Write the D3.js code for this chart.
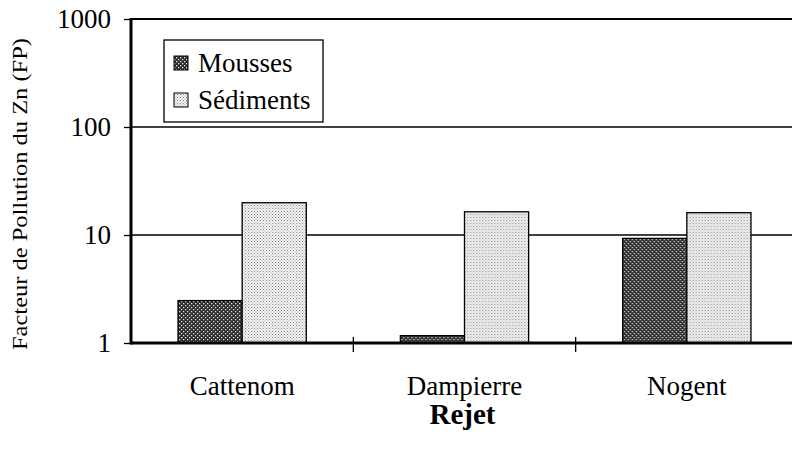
<!DOCTYPE html>
<html>
<head>
<meta charset="utf-8">
<script src="https://cdn.jsdelivr.net/npm/d3@7/dist/d3.min.js"></script>
<style>
  html, body { margin: 0; padding: 0; background: #fff; }
</style>
</head>
<body>
<svg id="chart" width="792" height="458"></svg>
<script>
// Sites (rejet) and Zn pollution factor per matrix
const categories = ["Cattenom", "Dampierre", "Nogent"];
const seriesNames = ["Mousses", "Sédiments"];
const mousses = [2.47, 1.17, 9.3];
const sediments = [19.9, 16.4, 16.1];
const yTicks = [1, 10, 100, 1000];

const FONT = "'Liberation Serif'";
const svg = d3.select("#chart");
const W = 792, H = 458;
const m = { left: 131, right: -6, top: 19, bottom: 115 };
const plotW = W - m.left - m.right;
const plotH = H - m.top - m.bottom;

// Fill patterns for the two series
const defs = svg.append("defs");
const pM = defs.append("pattern").attr("id", "patMousses")
  .attr("width", 4).attr("height", 4).attr("patternUnits", "userSpaceOnUse");
pM.append("rect").attr("width", 4).attr("height", 4).attr("fill", "#2a2a2a");
pM.append("rect").attr("x", 0).attr("y", 0).attr("width", 1.3).attr("height", 1.3).attr("fill", "#e8e8e8");
pM.append("rect").attr("x", 2).attr("y", 2).attr("width", 1.3).attr("height", 1.3).attr("fill", "#e8e8e8");

const pS = defs.append("pattern").attr("id", "patSediments")
  .attr("width", 3).attr("height", 3).attr("patternUnits", "userSpaceOnUse");
pS.append("rect").attr("width", 3).attr("height", 3).attr("fill", "#f2f2f2");
pS.append("rect").attr("x", 0).attr("y", 0).attr("width", 1).attr("height", 1).attr("fill", "#888");
pS.append("rect").attr("x", 1.5).attr("y", 1.5).attr("width", 1).attr("height", 1).attr("fill", "#aaa");

const fills = { "Mousses": "url(#patMousses)", "Sédiments": "url(#patSediments)" };

const g = svg.append("g").attr("transform", `translate(${m.left},${m.top})`);

const x0 = d3.scaleBand().domain(categories).range([0, plotW]).paddingInner(0).paddingOuter(0);
const bw = x0.bandwidth();
const groupW = bw * 0.577;
const x1 = d3.scaleBand().domain(seriesNames).range([(bw - groupW) / 2, (bw + groupW) / 2]).padding(0);
const y = d3.scaleLog().domain([1, 1000]).range([plotH, 0]);

// Horizontal grid lines at each decade
g.append("g").selectAll("line").data(yTicks.filter(t => t > 1 && t < 1000)).join("line")
  .attr("x1", 0).attr("x2", plotW)
  .attr("y1", d => y(d)).attr("y2", d => y(d))
  .attr("stroke", "#000").attr("stroke-width", 1.3);

// Top frame line
g.append("line").attr("x1", 0).attr("x2", plotW).attr("y1", y(1000)).attr("y2", y(1000))
  .attr("stroke", "#000").attr("stroke-width", 2);

// Bars
const rows = categories.map((c, i) => ({ cat: c, values: [
  { key: "Mousses", v: mousses[i] },
  { key: "Sédiments", v: sediments[i] }
]}));

const grp = g.append("g").selectAll("g").data(rows).join("g")
  .attr("transform", d => `translate(${x0(d.cat)},0)`);
grp.selectAll("rect").data(d => d.values).join("rect")
  .attr("x", d => x1(d.key))
  .attr("width", x1.bandwidth())
  .attr("y", d => y(d.v))
  .attr("height", d => y(1) - y(d.v))
  .attr("fill", d => fills[d.key])
  .attr("stroke", "#000").attr("stroke-width", 1.3);

// Y axis
const yAxis = d3.axisLeft(y).tickValues(yTicks).tickFormat(d3.format("d")).tickSize(7).tickPadding(13);
const ya = g.append("g").call(yAxis);
ya.select(".domain").remove();
ya.selectAll(".tick line").attr("stroke", "#000").attr("stroke-width", 1.3);
ya.selectAll(".tick text").attr("font-size", 27).attr("fill", "#000")
  .style("font-family", FONT);
g.append("line").attr("x1", 0).attr("x2", 0).attr("y1", -1).attr("y2", plotH + 1.5)
  .attr("stroke", "#000").attr("stroke-width", 3);

// X axis
const xa = g.append("g").attr("transform", `translate(0,${plotH})`);
xa.append("line").attr("x1", 0).attr("x2", plotW).attr("stroke", "#000").attr("stroke-width", 3);
xa.selectAll("line.sep").data(categories.slice(1)).join("line").attr("class", "sep")
  .attr("x1", d => x0(d)).attr("x2", d => x0(d)).attr("y1", -6).attr("y2", 9)
  .attr("stroke", "#000").attr("stroke-width", 1.3);
xa.selectAll("text").data(categories).join("text")
  .attr("x", d => x0(d) + bw / 2).attr("y", 52)
  .attr("text-anchor", "middle").attr("font-size", 27).attr("fill", "#000")
  .style("font-family", FONT)
  .text(d => d);

// Axis titles
svg.append("text").attr("x", m.left + plotW / 2 - 2).attr("y", 424)
  .attr("text-anchor", "middle").attr("font-size", 29).attr("font-weight", "bold")
  .style("font-family", FONT)
  .text("Rejet");
svg.append("text").attr("transform", `translate(27,${(38 + 350) / 2}) rotate(-90)`)
  .attr("text-anchor", "middle").attr("font-size", 21)
  .style("font-family", FONT)
  .attr("textLength", 312).attr("lengthAdjust", "spacingAndGlyphs")
  .text("Facteur de Pollution du Zn (FP)");

// Legend
const lg = svg.append("g").attr("transform", "translate(164,40)");
lg.append("rect").attr("width", 159).attr("height", 82).attr("fill", "#fff")
  .attr("stroke", "#000").attr("stroke-width", 1.3);
const li = lg.selectAll("g.item").data(seriesNames).join("g").attr("class", "item")
  .attr("transform", (d, i) => `translate(10,${23 + i * 37})`);
li.append("rect").attr("y", -7).attr("width", 14).attr("height", 14)
  .attr("fill", d => fills[d]).attr("stroke", "#000").attr("stroke-width", 1);
li.append("text").attr("x", 24).attr("y", 9).attr("font-size", 27)
  .style("font-family", FONT).text(d => d);
</script>
</body>
</html>
